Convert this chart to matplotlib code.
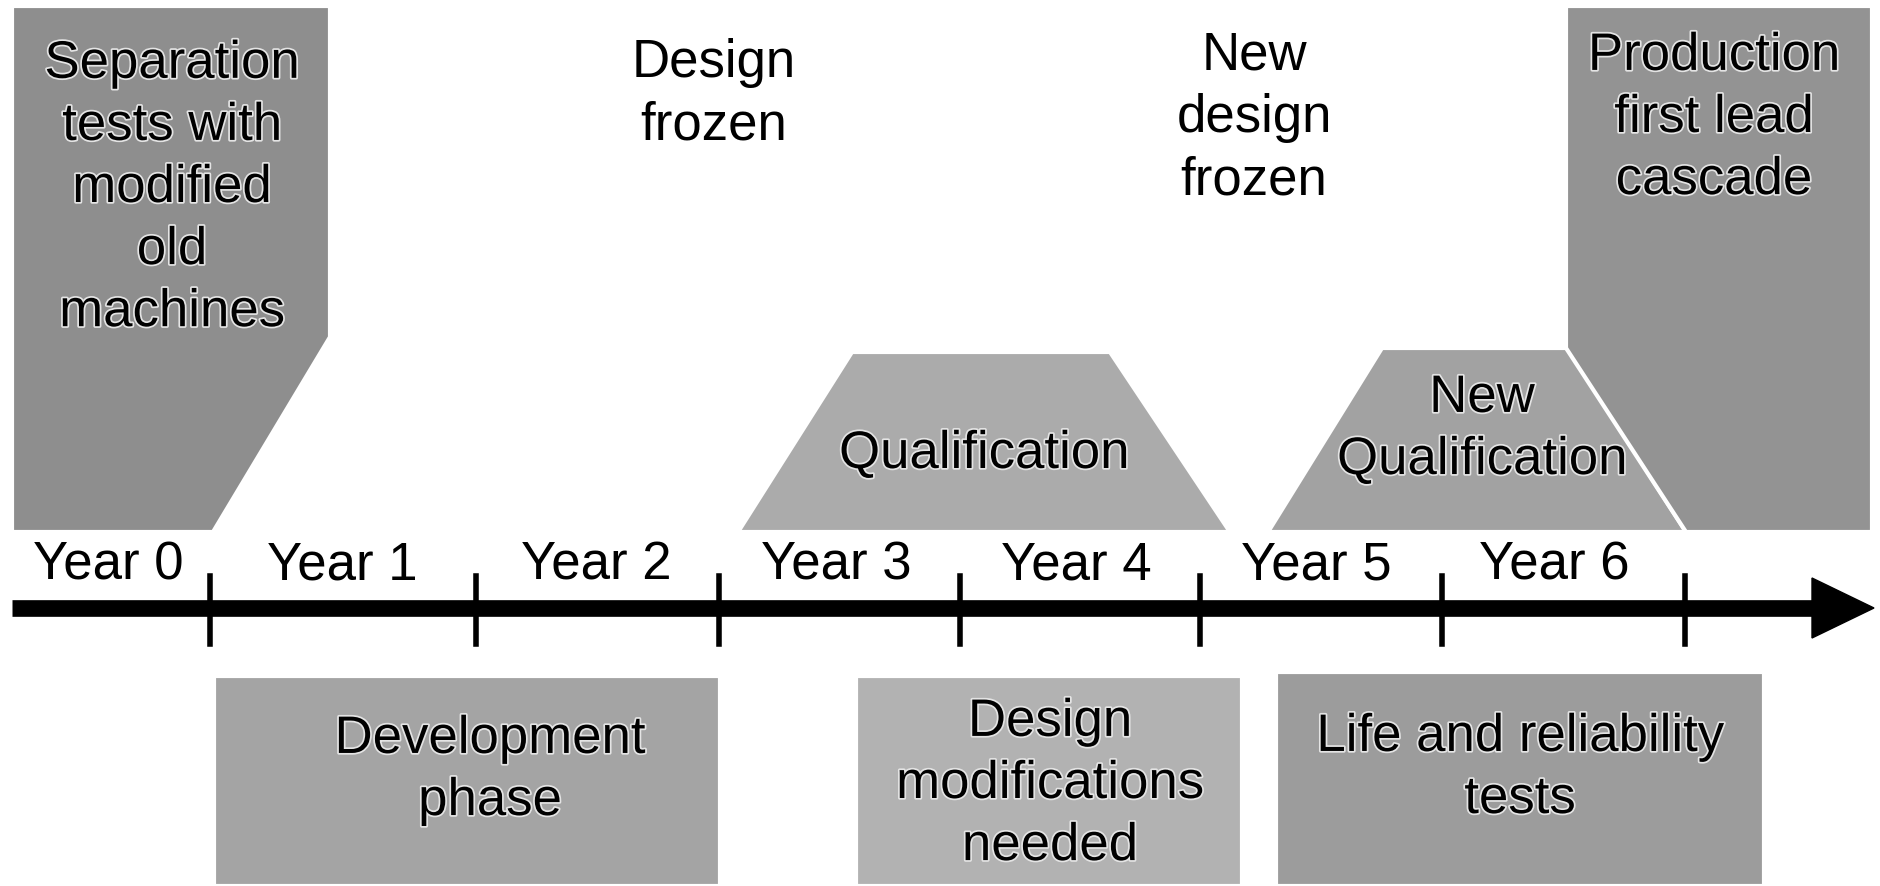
import matplotlib.pyplot as plt
import matplotlib.patches as patches
import matplotlib.patheffects as pe

# year labels and where they sit along the timeline (pixels)
year_labels = ['Year 0', 'Year 1', 'Year 2', 'Year 3', 'Year 4', 'Year 5', 'Year 6']
year_label_x = [108, 342, 596, 836, 1076, 1316, 1554]
tick_x = [210, 476, 719, 960, 1200, 1442, 1685]

# phases above / below the timeline
phase_texts = ['Separation\ntests with\nmodified\nold\nmachines',
               'Qualification',
               'New\nQualification',
               'Production\nfirst lead\ncascade',
               'Development\nphase',
               'Design\nmodifications\nneeded',
               'Life and reliability\ntests']
phase_shapes = [
    [(12, 6), (330, 6), (330, 337), (213, 532), (12, 532)],
    [(852, 352), (1110, 352), (1230, 532), (738, 532)],
    [(1382, 348), (1568, 348), (1686, 532), (1268, 532)],
    [(1566, 6), (1872, 6), (1872, 532), (1686, 532), (1566, 348)],
    [(214, 676), (720, 676), (720, 886), (214, 886)],
    [(856, 676), (1242, 676), (1242, 886), (856, 886)],
    [(1276, 672), (1764, 672), (1764, 886), (1276, 886)],
]
phase_colors = ['#8e8e8e', '#ababab', '#a2a2a2', '#939393', '#a4a4a4', '#b2b2b2', '#9c9c9c']
phase_text_xy = [(172, 188), (984, 454), (1482, 429), (1714, 118),
                 (490, 770), (1050, 784), (1520, 768)]

# milestones without a box
milestone_texts = ['Design\nfrozen', 'New\ndesign\nfrozen']
milestone_xy = [(714, 94), (1254, 118)]

plt.rcParams['font.family'] = ['Liberation Sans', 'DejaVu Sans']

fig = plt.figure(figsize=(18.81, 8.86), dpi=100)
fig.patch.set_facecolor('white')
ax = fig.add_axes([0, 0, 1, 1])
ax.set_xlim(0, 1881)
ax.set_ylim(886, 0)
ax.axis('off')

halo = [pe.withStroke(linewidth=2.5, foreground='#e4e4e4')]

for pts, col, txt, (tx, ty) in zip(phase_shapes, phase_colors, phase_texts, phase_text_xy):
    ax.add_patch(patches.Polygon(pts, closed=True, facecolor=col,
                                 edgecolor='white', linewidth=3, zorder=1))
    ax.text(tx, ty, txt, ha='center', va='center', fontsize=38,
            linespacing=1.31, color='black', zorder=3, path_effects=halo)

for txt, (tx, ty) in zip(milestone_texts, milestone_xy):
    ax.text(tx, ty, txt, ha='center', va='center', fontsize=38,
            linespacing=1.31, color='black', zorder=3)

# timeline arrow
line_y = 608
ax.plot([12, 1815], [line_y, line_y], color='black', linewidth=12,
        solid_capstyle='butt', zorder=2)
ax.add_patch(patches.Polygon([(1812, line_y - 30), (1874, line_y), (1812, line_y + 30)],
                             closed=True, facecolor='black', edgecolor='black', zorder=2))
for x in tick_x:
    ax.plot([x, x], [576, 644], color='black', linewidth=4, zorder=2)

for lab, x in zip(year_labels, year_label_x):
    ax.text(x, 566, lab, ha='center', va='center', fontsize=38, zorder=3)

plt.savefig('out.png', dpi=100, facecolor='white')
plt.close()
